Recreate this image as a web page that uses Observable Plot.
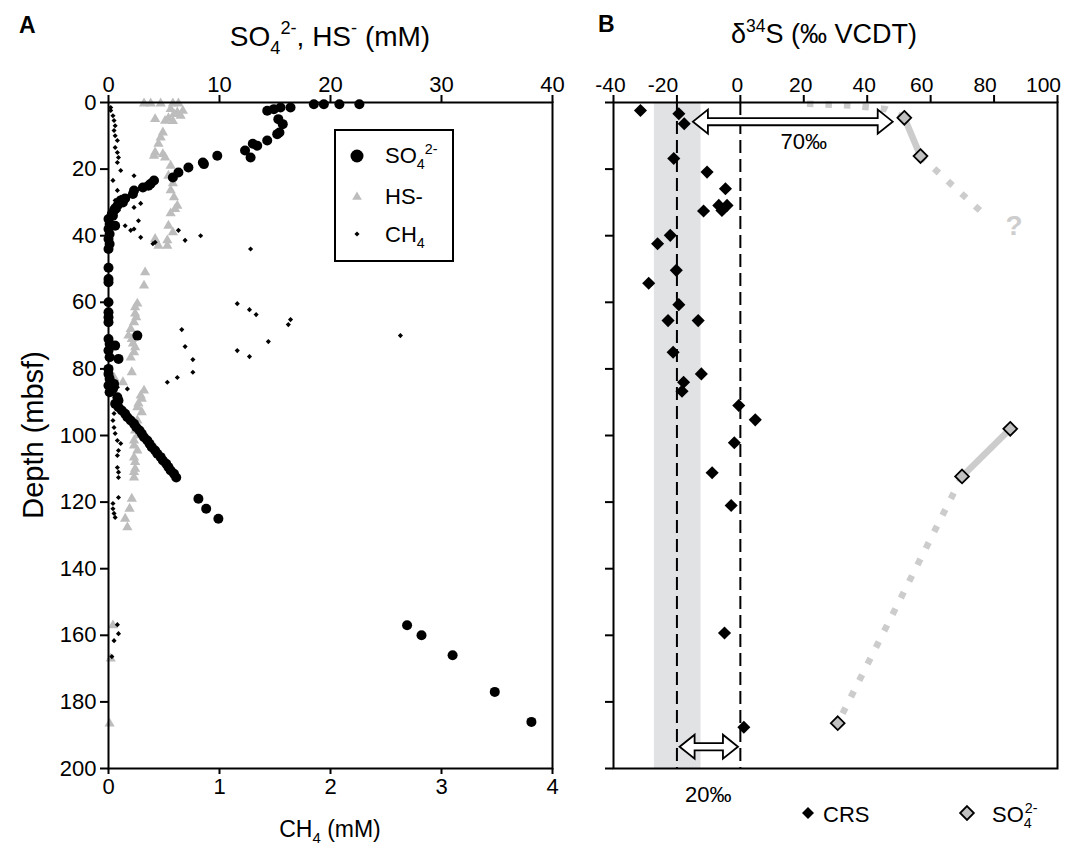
<!DOCTYPE html>
<html><head><meta charset="utf-8">
<script src="https://cdn.jsdelivr.net/npm/d3@7"></script>
<script src="https://cdn.jsdelivr.net/npm/@observablehq/plot@0.6"></script>
<style>
html,body{margin:0;padding:0;background:white;}
#wrap{position:relative;width:1069px;height:850px;overflow:hidden;}
#wrap > svg{position:absolute;top:0;}
</style></head><body><div id="wrap"></div>
<script>
// ---------- DATA (depth in mbsf, value) ----------
const depthTicks = [0, 20, 40, 60, 80, 100, 120, 140, 160, 180, 200];
const concTicks = [0, 10, 20, 30, 40];          // SO4 / HS- (mM)
const ch4Ticks = [0, 1, 2, 3, 4];               // CH4 (mM)
const d34Ticks = [-40, -20, 0, 20, 40, 60, 80, 100];

// Panel A: sulfate (mM)
const so4 = [
  [0.5,18.5],[0.5,19.4],[0.5,20.8],[0.5,22.6],
  [1.5,15.5],[1.5,16.4],[2,14.9],[2.5,14.3],
  [5,15.3],[6.5,15.7],[9,15.4],[9.5,15.2],
  [11.4,14.3],[12.4,13.0],[13,13.4],[14.4,12.3],[16.5,12.8],[16,9.8],
  [18,8.5],[18.5,8.6],[19.5,7.2],[21,6.3],[22.5,5.8],[23.4,4.1],[24.4,3.8],[25,3.6],[25.5,3.1],
  [26.4,2.3],[27.5,2.2],[28.8,1.5],[29.4,1.1],[30,1.3],[31,0.8],[31.8,0.6],[32.4,0.5],[33.5,0.3],[34,0.4],
  [35,0],[36.5,0.1],[37,0.6],[38,0],[39.5,0.1],[41,0],[42.5,0.1],[44,0],[49.6,0],[53,0],
  [54,0],[60,0],[63,0],[64.5,0],[66,0],[71,0],[72.5,0.1],[74.5,0],[76.5,0.1],[80,0],[81.5,0],[83,0.1],[85,0],[87,0.1],
  [70,2.6],[73,0.6],[77,0.9],[84.5,0.5],[86,0.4],
  [88.5,0.8],[89.5,0.9],[90.5,0.6],[91.5,0.9],[92.5,1.2],[93.5,1.5],[94.5,1.7],[95.5,2.0],[96.5,2.3],
  [97.5,2.5],[98.5,2.8],[99.5,3.0],[100.5,3.2],[101.5,3.5],[102.5,3.7],[103.5,3.9],[104.5,4.2],[105.5,4.4],
  [106.5,4.7],[107.5,4.9],[108.5,5.2],[109.5,5.4],[110.5,5.6],[111.5,5.9],[112.6,6.1],
  [119,8.1],[122,8.8],[125,9.9],
  [157,26.9],[160,28.2],[166,31.0],[177,34.8],[186,38.1]
];
// Panel A: sulfide HS- (mM)
const hs = [
  [0.3,3.2],[0.3,3.8],[0.3,4.7],[0.3,5.8],[0.3,6.3],
  [2,5.6],[2.5,6.7],[3,6.2],[3.5,5.9],[4,6.5],
  [5,4.2],[5.5,5.1],[4.7,5.4],[5.6,5.8],
  [9,4.9],[10.5,4.7],[12.4,4.5],[15,4.2],[16,4.1],[15.5,4.9],
  [16.5,5.1],[19,5.6],[22,5.4],[24.3,5.8],[26.4,5.6],[28.5,5.9],[31,6.2],[32,6.0],[33.3,5.6],
  [37,5.4],[39,5.8],[41.4,5.3],[43,4.5],[43,5.3],[41,4.2],
  [51,3.3],[55,3.2],
  [60.4,2.6],[61.5,2.4],[63.4,2.4],[64.5,2.5],[66,2.3],[68,2.0],[70,1.8],[71,2.1],[72.4,2.2],[73.5,2.4],[75,2.3],[76.6,2.0],[81,2.1],
  [82.6,0.5],[84,1.3],
  [86.5,3.2],[88,2.9],[89,3.0],[90.4,2.7],[91.5,2.6],[93,3.0],[95.5,2.6],[96.5,2.4],[98.5,2.4],[100,2.6],
  [101.5,2.3],[103,2.3],[104.5,2.6],[106.6,2.3],[108,2.4],[110,2.4],[111,2.3],[112.6,2.3],
  [119,2.1],[122,1.9],[125,1.5],[127.6,1.7],
  [157,0.4],[167,0.2],[186.5,0.1]
];
// Panel A: methane (mM)
const ch4 = [
  [1.5,0.02],[2.4,0.02],[4,0.04],[5.4,0.05],[7,0.06],[8.4,0.05],[10,0.06],[11.4,0.08],[13.5,0.06],[15,0.08],
  [16.5,0.09],[18,0.08],[20.4,0.11],[23.4,0.04],[22,0.23],[26.4,0.08],[28.5,0.11],[29.4,0.06],[31.5,0.23],
  [30.3,0.29],[32.4,0.09],[34.5,0.05],[35.5,0.27],
  [37,0.15],[38,0.23],[38.4,0.2],[40.5,0.29],[42.4,0.4],[42,0.42],[38.4,0.63],[41.4,0.69],[40,0.83],[44,1.28],
  [60.4,1.16],[62.2,1.27],[63.7,1.33],[65.2,1.64],[66.7,1.62],[68.2,0.66],[70,2.63],[71.8,1.44],[73.3,0.69],
  [74.5,1.16],[76.3,1.27],[77.2,0.76],[81,0.76],[82.6,0.62],[84,0.53],
  [85.5,0.08],[86,0.17],
  [93.4,0.05],[95.5,0.04],[97.6,0.05],[99.4,0.06],[101.5,0.08],[102.4,0.11],[104.5,0.09],[106,0.08],
  [109.6,0.08],[111,0.09],[112.6,0.09],
  [118.6,0.09],[120.4,0.04],[122,0.04],[123.4,0.05],[124.6,0.06],
  [156.8,0.08],[159.5,0.09],[161.6,0.05],[166.4,0.03]
];

// Panel B: d34S of chromium-reducible sulfur (permil)
const crs = [
  [2.4,-31.5],[3.4,-19.4],[6.4,-17.7],[16.8,-21],[20.9,-10.5],[25.9,-4.7],[30.9,-6.8],[30.9,-4.2],
  [32.4,-5.8],[32.6,-11.6],[39.9,-22.1],[42.4,-26.1],[50.4,-20.2],[54.3,-28.9],[60.7,-19.4],
  [65.5,-22.8],[65.5,-13.3],[75,-21.2],[81.5,-12.3],[84,-17.9],[86.7,-18.4],[91,-0.5],[95.3,4.7],
  [102.2,-1.9],[111.2,-8.9],[121,-2.9],[159.3,-5.0],[187.6,1.1]
];
// Panel B: d34S of pore-water sulfate
const so4Iso = [[4.6,51.7],[16.1,56.8],[98,85.1],[112.3,69.9],[186.4,30.7]];
// gray connecting lines (solid = measured pairs, dotted = inferred trend)
const so4Solid = [
  {seg:"a", depth:4.6, d34:51.7},{seg:"a", depth:16.1, d34:56.8},
  {seg:"b", depth:98, d34:85.1},{seg:"b", depth:112.3, d34:69.9}
];
const so4Dotted = [
  {seg:"sw", depth:0.4, d34:21},{seg:"sw", depth:0.9, d34:35},{seg:"sw", depth:2.0, d34:46},{seg:"sw", depth:4.6, d34:51.7},
  {seg:"up", depth:16.1, d34:56.8},{seg:"up", depth:34.4, d34:77.8},
  {seg:"lo", depth:112.3, d34:69.9},{seg:"lo", depth:186.4, d34:30.7}
];
const band = [{from:-27.1, to:-12.4}];   // shaded CRS range
const refLines = [-20, 0];                // dashed reference lines
const offsets = [{from:-14.8, to:48.2, depth:5.9}, {from:-19, to:-0.6, depth:193.6}];
const offsetLabels = [{x:20, y:11.9, label:"70‰"}, {x:-10.1, y:208, label:"20‰"}];
const queryMark = [{x:86.3, y:37, label:"?"}];

// ---------- DRAW ----------
const FONT = '"Liberation Sans", Arial, Helvetica, sans-serif';
const styleA = {fontFamily: FONT, fontSize: "22px", color: "black", background: "transparent", overflow: "visible"};
const styleB = {fontFamily: FONT, fontSize: "21px", color: "black", background: "transparent", overflow: "visible"};
const wrap = document.getElementById("wrap");

const plotA = Plot.plot({
  width: 580, height: 850,
  marginTop: 102, marginBottom: 82, marginLeft: 108, marginRight: 28,
  style: styleA,
  x: {domain: [0, 40]},
  y: {domain: [0, 200], reverse: true},
  marks: [
    Plot.dot(hs, {x: d => d[1], y: d => d[0], symbol: "triangle", r: 3.8, fill: "#bdbdbd", stroke: "none"}),
    Plot.dot(so4, {x: d => d[1], y: d => d[0], r: 5, fill: "black", stroke: "none"}),
    Plot.dot(ch4, {x: d => d[1] * 10, y: d => d[0], symbol: "diamond2", r: 2.3, fill: "black", stroke: "none"}),
    Plot.frame({strokeWidth: 2}),
    Plot.axisX({anchor: "top", ticks: concTicks, tickSize: 8, tickPadding: 3, strokeWidth: 2, label: null, tickFormat: d => String(d)}),
    Plot.axisX({anchor: "bottom", ticks: ch4Ticks.map(v => v * 10), tickSize: 6, tickPadding: 4, strokeWidth: 2, label: null, tickFormat: d => String(d / 10)}),
    Plot.axisY({anchor: "left", ticks: depthTicks, tickSize: 8, tickPadding: 4, strokeWidth: 2, label: null, tickFormat: d => String(d)})
  ]
});
plotA.style.left = "0px";
wrap.appendChild(plotA);

function hollowArrows(data) {
  return (index, scales) => {
    const g = d3.create("svg:g");
    for (const a of data) {
      const xa = scales.x(a.from), xb = scales.x(a.to), y = scales.y(a.depth);
      const hl = 15, hh = 12, sh = 3.6;
      const pts = [[xa, y], [xa + hl, y - hh], [xa + hl, y - sh], [xb - hl, y - sh], [xb - hl, y - hh], [xb, y],
                   [xb - hl, y + hh], [xb - hl, y + sh], [xa + hl, y + sh], [xa + hl, y + hh]];
      g.append("polygon").attr("points", pts.map(p => p.join(",")).join(" "))
        .attr("fill", "white").attr("stroke", "black").attr("stroke-width", 1.8);
    }
    return g.node();
  };
}

// tick labels of panel B sit slightly left of their ticks in the original
const d34LabelGroups = [
  {ticks: [-40, 0, 20, 40], dx: -3},
  {ticks: [60, 80], dx: -9},
  {ticks: [-20, 100], dx: -14}
];

const plotB = Plot.plot({
  width: 489, height: 850,
  marginTop: 102, marginBottom: 82, marginLeft: 33, marginRight: 12,
  style: styleB,
  x: {domain: [-40, 100]},
  y: {domain: [0, 200], reverse: true},
  marks: [
    Plot.rect(band, {x1: "from", x2: "to", y1: 0, y2: 200, fill: "#e1e2e4"}),
    Plot.ruleX(refLines, {stroke: "black", strokeWidth: 2, strokeDasharray: "13,6"}),
    Plot.line(so4Dotted, {x: "d34", y: "depth", z: "seg", stroke: "#cccccc", strokeWidth: 6.5, strokeDasharray: "6.5,12", strokeLinecap: "butt", curve: "linear"}),
    Plot.line(so4Solid, {x: "d34", y: "depth", z: "seg", stroke: "#cccccc", strokeWidth: 6.5, strokeLinecap: "butt"}),
    hollowArrows(offsets),
    Plot.dot(crs, {x: d => d[1], y: d => d[0], symbol: "diamond2", r: 5.9, fill: "black", stroke: "none"}),
    Plot.dot(so4Iso, {x: d => d[1], y: d => d[0], symbol: "diamond2", r: 6.2, fill: "#c0c0c0", stroke: "black", strokeWidth: 1.8}),
    Plot.text(offsetLabels, {x: "x", y: "y", text: "label", fontSize: 22, fill: "black"}),
    Plot.text(queryMark, {x: "x", y: "y", text: "label", fontSize: 28, fontWeight: "bold", fill: "#cdcdcd"}),
    Plot.frame({strokeWidth: 2}),
    Plot.axisX({anchor: "top", ticks: d34Ticks, tickSize: 8, strokeWidth: 2, label: null, tickFormat: () => ""}),
    ...d34LabelGroups.map(g => Plot.axisX({anchor: "top", ticks: g.ticks, tickSize: 0, tickPadding: 11, dx: g.dx, label: null, tickFormat: d => String(d)})),
    Plot.axisY({anchor: "left", ticks: depthTicks, tickSize: 8, strokeWidth: 2, label: null, tickFormat: () => ""})
  ]
});
plotB.style.left = "580px";
wrap.appendChild(plotB);

// ---------- overlay: titles, panel letters, legends ----------
const ov = d3.select(wrap).append("svg").attr("width", 1069).attr("height", 850)
  .style("left", "0px").style("pointer-events", "none").attr("font-family", FONT);

function rich(x, y, parts, size, opts = {}) {
  const t = ov.append("text").attr("x", x).attr("y", y).attr("font-size", size)
    .attr("text-anchor", opts.anchor || "start").attr("fill", opts.fill || "black");
  if (opts.weight) t.attr("font-weight", opts.weight);
  if (opts.transform) t.attr("transform", opts.transform);
  let shift = 0;
  for (const p of parts) {
    const target = p.sub ? 0.28 * size : p.sup ? -0.42 * size : 0;
    const s = t.append("tspan").text(p.t).attr("dy", target - shift);
    if (p.sub || p.sup) s.attr("font-size", 0.65 * size);
    if (p.dx) s.attr("dx", p.dx);
    shift = target;
  }
  return t;
}

rich(19, 33, [{t: "A"}], 23, {weight: "bold"});
rich(598, 32, [{t: "B"}], 23, {weight: "bold"});
rich(330, 46, [{t: "SO"}, {t: "4", sub: true}, {t: "2-", sup: true}, {t: ", HS"}, {t: "-", sup: true}, {t: " (mM)"}], 28, {anchor: "middle"});
rich(824, 43, [{t: "δ"}, {t: "34", sup: true}, {t: "S (‰ VCDT)"}], 27, {anchor: "middle"});
rich(43, 435, [{t: "Depth (mbsf)"}], 29, {anchor: "middle", transform: "rotate(-90,43,435)"});
rich(330, 837, [{t: "CH"}, {t: "4", sub: true}, {t: " (mM)"}], 23, {anchor: "middle"});

// legend A
ov.append("rect").attr("x", 335).attr("y", 130).attr("width", 118).attr("height", 131)
  .attr("fill", "white").attr("stroke", "black").attr("stroke-width", 2);
ov.append("circle").attr("cx", 357).attr("cy", 156).attr("r", 6.5).attr("fill", "black");
ov.append("path").attr("d", d3.symbol(d3.symbolTriangle, Math.PI * 3.6 * 3.6)()).attr("transform", "translate(357,197)").attr("fill", "#bdbdbd");
ov.append("path").attr("d", d3.symbol(d3.symbolDiamond2, Math.PI * 2.3 * 2.3)()).attr("transform", "translate(357,234)").attr("fill", "black");
rich(385, 163, [{t: "SO"}, {t: "4", sub: true}, {t: "2-", sup: true}], 22);
rich(385, 204, [{t: "HS-"}], 22);
rich(385, 242, [{t: "CH"}, {t: "4", sub: true}], 22);

// legend B
ov.append("path").attr("d", d3.symbol(d3.symbolDiamond2, Math.PI * 5.4 * 5.4)()).attr("transform", "translate(808,813)").attr("fill", "black");
rich(823, 822, [{t: "CRS"}], 22);
ov.append("path").attr("d", d3.symbol(d3.symbolDiamond2, Math.PI * 6.2 * 6.2)()).attr("transform", "translate(967,813)")
  .attr("fill", "#c0c0c0").attr("stroke", "black").attr("stroke-width", 1.8);
rich(992, 822, [{t: "SO"}, {t: "4", sub: true}, {t: "2-", sup: true, dx: -7}], 22);
</script></body></html>
